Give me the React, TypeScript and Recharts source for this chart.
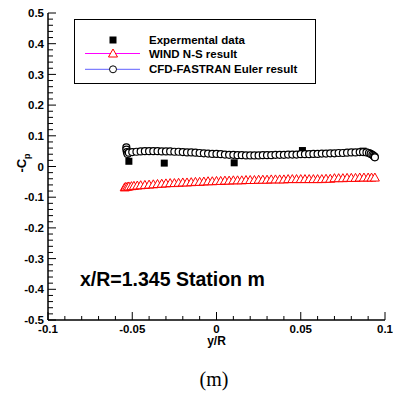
import React from 'react';
import { ScatterChart, Scatter, XAxis, YAxis, Legend } from 'recharts';

const FONT = '"Liberation Sans", Arial, Helvetica, sans-serif';

const X_TICKS = [-0.1, -0.09, -0.08, -0.07, -0.06, -0.05, -0.04, -0.03, -0.02, -0.01, 0,
  0.01, 0.02, 0.03, 0.04, 0.05, 0.06, 0.07, 0.08, 0.09, 0.1];
const Y_TICKS = [-0.5, -0.48, -0.46, -0.44, -0.42, -0.4, -0.38, -0.36, -0.34, -0.32, -0.3,
  -0.28, -0.26, -0.24, -0.22, -0.2, -0.18, -0.16, -0.14, -0.12, -0.1,
  -0.08, -0.06, -0.04, -0.02, 0, 0.02, 0.04, 0.06, 0.08, 0.1,
  0.12, 0.14, 0.16, 0.18, 0.2, 0.22, 0.24, 0.26, 0.28, 0.3,
  0.32, 0.34, 0.36, 0.38, 0.4, 0.42, 0.44, 0.46, 0.48, 0.5];

const expX = [-0.052, -0.031, 0.0105, 0.051, 0.087];
const expY = [0.017, 0.011, 0.012, 0.052, 0.050];

const windX = [-0.0545, -0.054, -0.053, -0.052, -0.0505, -0.049, -0.047, -0.045, -0.0425, -0.04,
  -0.0375, -0.035, -0.0325, -0.03, -0.0275, -0.025, -0.0225, -0.02, -0.0175, -0.015,
  -0.0125, -0.01, -0.0075, -0.005, -0.0025, 0, 0.0025, 0.005, 0.0075, 0.01,
  0.0125, 0.015, 0.0175, 0.02, 0.0225, 0.025, 0.0275, 0.03, 0.0325, 0.035,
  0.0375, 0.04, 0.0425, 0.045, 0.0475, 0.05, 0.0525, 0.055, 0.0575, 0.06,
  0.0625, 0.065, 0.0675, 0.07, 0.0725, 0.075, 0.0775, 0.08, 0.0825, 0.085,
  0.0875, 0.09, 0.092, 0.094];
const windY = [-0.068, -0.067, -0.066, -0.065, -0.064, -0.063, -0.062, -0.061, -0.060, -0.059,
  -0.058, -0.057, -0.056, -0.055, -0.054, -0.054, -0.053, -0.052, -0.052, -0.051,
  -0.050, -0.050, -0.049, -0.048, -0.048, -0.047, -0.047, -0.046, -0.046, -0.045,
  -0.045, -0.045, -0.044, -0.044, -0.044, -0.043, -0.043, -0.043, -0.042, -0.042,
  -0.042, -0.042, -0.041, -0.041, -0.041, -0.041, -0.041, -0.041, -0.041, -0.041,
  -0.041, -0.040, -0.040, -0.038, -0.038, -0.038, -0.037, -0.037, -0.037, -0.036,
  -0.036, -0.036, -0.036, -0.036];

const cfdX = [-0.0535, -0.0535, -0.0532, -0.0528, -0.052, -0.05, -0.0475, -0.045, -0.0425, -0.04,
  -0.0375, -0.035, -0.0325, -0.03, -0.0275, -0.025, -0.0225, -0.02, -0.0175, -0.015,
  -0.0125, -0.01, -0.0075, -0.005, -0.0025, 0, 0.0025, 0.005, 0.0075, 0.01,
  0.0125, 0.015, 0.0175, 0.02, 0.0225, 0.025, 0.0275, 0.03, 0.0325, 0.035,
  0.0375, 0.04, 0.0425, 0.045, 0.0475, 0.05, 0.0525, 0.055, 0.0575, 0.06,
  0.0625, 0.065, 0.0675, 0.07, 0.0725, 0.075, 0.0775, 0.08, 0.0825, 0.085,
  0.087, 0.089, 0.0905, 0.0915, 0.0925, 0.0932, 0.0938, 0.094];
const cfdY = [0.062, 0.055, 0.047, 0.041, 0.045, 0.047, 0.048, 0.049, 0.050, 0.050,
  0.050, 0.050, 0.049, 0.049, 0.049, 0.048, 0.048, 0.047, 0.046, 0.046,
  0.045, 0.044, 0.043, 0.042, 0.041, 0.041, 0.040, 0.039, 0.038, 0.038,
  0.037, 0.037, 0.036, 0.036, 0.036, 0.036, 0.037, 0.037, 0.037, 0.038,
  0.038, 0.038, 0.039, 0.039, 0.039, 0.040, 0.040, 0.040, 0.041, 0.041,
  0.042, 0.042, 0.043, 0.043, 0.044, 0.044, 0.045, 0.046, 0.046, 0.047,
  0.047, 0.046, 0.044, 0.041, 0.038, 0.035, 0.032, 0.030];

const toPts = (xs: number[], ys: number[]) => xs.map((x, i) => ({ x, y: ys[i] }));
const expData = toPts(expX, expY);
const windData = toPts(windX, windY);
const cfdData = toPts(cfdX, cfdY);

const isMajorX = (v: number) => Math.abs(v * 20 - Math.round(v * 20)) < 1e-6;
const isMajorY = (v: number) => Math.abs(v * 10 - Math.round(v * 10)) < 1e-6;

const XTick = (props: any) => {
  const { x, y, payload } = props;
  const v = payload.value as number;
  const major = isMajorX(v);
  return (
    <g>
      <line x1={x} x2={x} y1={y} y2={y - (major ? 8 : 4)} stroke="#000" strokeWidth={1} />
      {major && (
        <text x={x} y={y + 12.5} textAnchor="middle" fontFamily={FONT} fontWeight="bold" fontSize={11.5} fill="#000">
          {String(v)}
        </text>
      )}
    </g>
  );
};

const YTick = (props: any) => {
  const { x, y, payload } = props;
  const v = payload.value as number;
  const major = isMajorY(v);
  return (
    <g>
      <line x1={x} x2={x + (major ? 8 : 5)} y1={y} y2={y} stroke="#000" strokeWidth={1} />
      {major && (
        <text x={x - 4} y={y} dy="0.36em" textAnchor="end" fontFamily={FONT} fontWeight="bold" fontSize={11.5} fill="#000">
          {String(v)}
        </text>
      )}
    </g>
  );
};

const Square = (props: any) => {
  const { cx, cy } = props;
  return <rect x={cx - 3.5} y={cy - 3.5} width={7} height={7} fill="#000" />;
};
const Tri = (props: any) => {
  const { cx, cy } = props;
  return (
    <polygon
      points={`${cx},${cy - 4.5} ${cx - 4.5},${cy + 3.5} ${cx + 4.5},${cy + 3.5}`}
      fill="#fff"
      stroke="#ff0000"
      strokeWidth={1}
    />
  );
};
const Circ = (props: any) => {
  const { cx, cy } = props;
  return <circle cx={cx} cy={cy} r={3.5} fill="#fff" stroke="#000" strokeWidth={1.2} />;
};

const LegendBox = () => (
  <svg width={243} height={66} style={{ display: 'block' }}>
    <rect x={0.5} y={0.5} width={241} height={64} fill="#fff" stroke="#000" strokeWidth={1} />
    <rect x={35.5} y={17.5} width={7} height={7} fill="#000" />
    <text x={75} y={21} dy="0.36em" fontFamily={FONT} fontWeight="bold" fontSize={11.5} fill="#000">Expermental data</text>
    <line x1={11} x2={66} y1={34.5} y2={34.5} stroke="#ff00ff" strokeWidth={1.2} />
    <polygon points="39,30 34.5,38 43.5,38" fill="#fff" stroke="#ff0000" strokeWidth={1} />
    <text x={75} y={34.5} dy="0.36em" fontFamily={FONT} fontWeight="bold" fontSize={11.5} fill="#000">WIND N-S result</text>
    <line x1={11} x2={66} y1={50.3} y2={50.3} stroke="#7f7fff" strokeWidth={1.2} />
    <circle cx={39} cy={50.3} r={3.5} fill="#fff" stroke="#000" strokeWidth={1} />
    <text x={75} y={50.3} dy="0.36em" fontFamily={FONT} fontWeight="bold" fontSize={11.5} fill="#000">CFD-FASTRAN Euler result</text>
  </svg>
);

export default function App() {
  return (
    <div style={{ position: 'absolute', left: 0, top: 0, width: 393, height: 395, background: '#fff' }}>
      <ScatterChart width={393} height={395} margin={{ top: 13, right: 8, bottom: 45, left: 0 }}>
        <XAxis
          type="number"
          dataKey="x"
          domain={[-0.1, 0.1]}
          ticks={X_TICKS}
          interval={0}
          height={30}
          tickSize={0}
          tickMargin={0}
          tickLine={false}
          tick={XTick}
          axisLine={{ stroke: '#000', strokeWidth: 1.5 }}
          allowDataOverflow
        />
        <YAxis
          type="number"
          dataKey="y"
          domain={[-0.5, 0.5]}
          ticks={Y_TICKS}
          interval={0}
          width={48}
          tickSize={0}
          tickMargin={0}
          tickLine={false}
          tick={YTick}
          axisLine={{ stroke: '#000', strokeWidth: 1.5 }}
          allowDataOverflow
        />
        <Legend
          content={LegendBox}
          layout="horizontal"
          verticalAlign="middle"
          align="center"
          wrapperStyle={{ left: 74, top: 19, width: 243, height: 66 }}
        />
        <Scatter name="Expermental data" data={expData} shape={Square} isAnimationActive={false} />
        <Scatter
          name="WIND N-S result"
          data={windData}
          shape={Tri}
          line={{ stroke: '#ff00ff', strokeWidth: 1 }}
          lineType="joint"
          isAnimationActive={false}
        />
        <Scatter
          name="CFD-FASTRAN Euler result"
          data={cfdData}
          shape={Circ}
          line={{ stroke: '#7f7fff', strokeWidth: 1 }}
          lineType="joint"
          isAnimationActive={false}
        />
      </ScatterChart>
      <svg width={393} height={395} style={{ position: 'absolute', left: 0, top: 0, pointerEvents: 'none' }}>
        <text x={80} y={286} fontFamily={FONT} fontWeight="bold" fontSize={19.5} fill="#000">x/R=1.345 Station m</text>
        <text transform="translate(26,163) rotate(-90)" textAnchor="middle" fontFamily={FONT} fontWeight="bold" fontSize={13} fill="#000">
          -C<tspan fontSize={9} dy={4}>p</tspan>
        </text>
        <text x={216.5} y={345} textAnchor="middle" fontFamily={FONT} fontWeight="bold" fontSize={12} fill="#000">y/R</text>
        <text x={214} y={386} textAnchor="middle" fontFamily='"Liberation Serif", "Times New Roman", serif' fontSize={20} fill="#000">(m)</text>
      </svg>
    </div>
  );
}
